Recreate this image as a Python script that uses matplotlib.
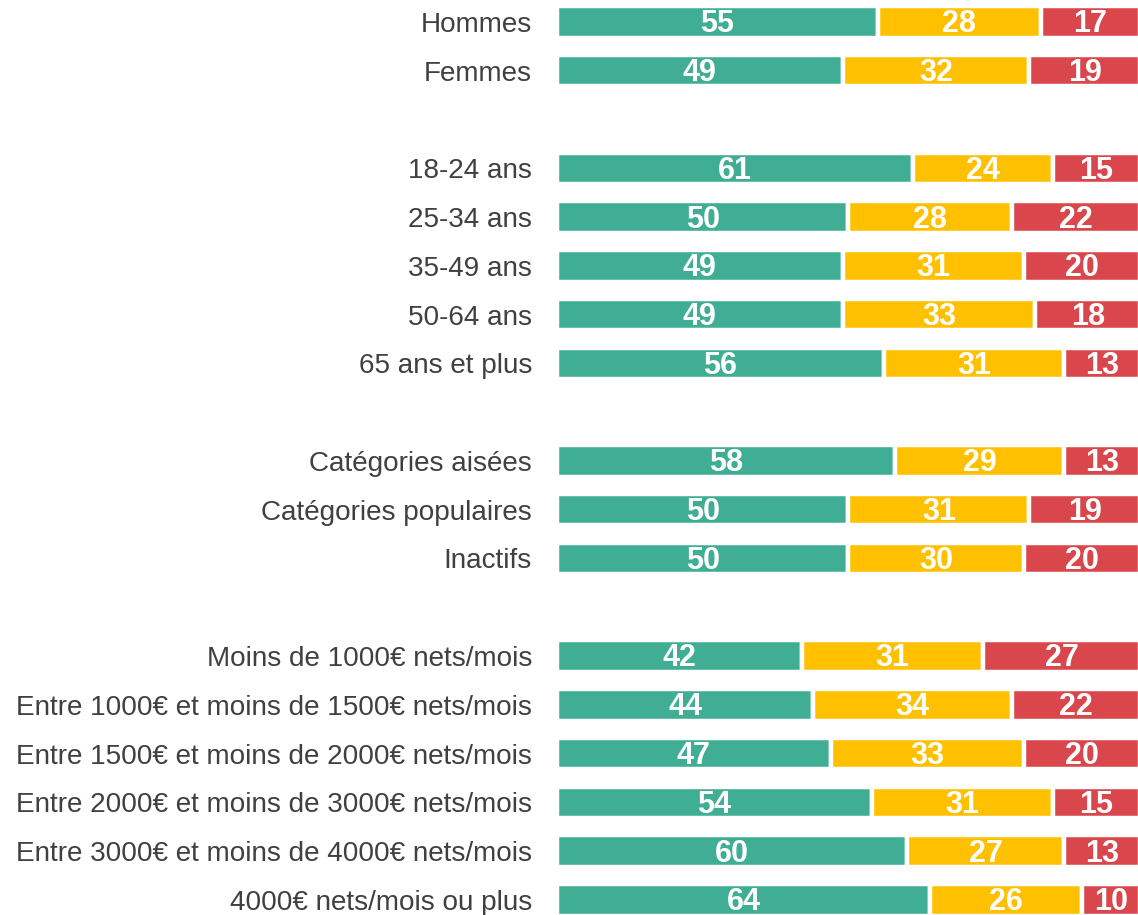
import matplotlib.pyplot as plt

plt.rcParams['font.family'] = ['Liberation Sans', 'DejaVu Sans']

# rows (None = blank spacer row between groups)
labels = ['Hommes', 'Femmes', None,
          '18-24 ans', '25-34 ans', '35-49 ans', '50-64 ans', '65 ans et plus', None,
          'Catégories aisées', 'Catégories populaires', 'Inactifs', None,
          'Moins de 1000€ nets/mois',
          'Entre 1000€ et moins de 1500€ nets/mois',
          'Entre 1500€ et moins de 2000€ nets/mois',
          'Entre 2000€ et moins de 3000€ nets/mois',
          'Entre 3000€ et moins de 4000€ nets/mois',
          '4000€ nets/mois ou plus']
green = [55, 49, None, 61, 50, 49, 49, 56, None, 58, 50, 50, None, 42, 44, 47, 54, 60, 64]
yellow = [28, 32, None, 24, 28, 31, 33, 31, None, 29, 31, 30, None, 31, 34, 33, 31, 27, 26]
red = [17, 19, None, 15, 22, 20, 18, 13, None, 13, 19, 20, None, 27, 22, 20, 15, 13, 10]

colors = ['#3FAE94', '#FFC000', '#D9464B']

fig = plt.figure(figsize=(11.38, 9.15), dpi=100)
ax = fig.add_axes([556.8 / 1138, 0, 583.4 / 1138, 1])

rows = [i for i, l in enumerate(labels) if l is not None]
for i in rows:
    left = 0
    for val, c in zip([green[i], yellow[i], red[i]], colors):
        ax.barh(i, val, left=left, height=0.645, color=c, edgecolor='white', linewidth=3.2)
        ax.text(left + val / 2, i + 0.05, str(val), ha='center', va='center',
                color='white', fontsize=22, fontweight='bold')
        left += val

ax.set_xlim(0, 100)
ax.set_ylim(18.31, -0.451)
ax.set_yticks(rows)
ax.set_yticklabels([labels[i] for i in rows], fontsize=20.1, color='#404040')
ax.tick_params(axis='y', length=0, pad=17.9)
ax.set_xticks([])
for s in ax.spines.values():
    s.set_visible(False)

fig.savefig('out.png', dpi=100)
